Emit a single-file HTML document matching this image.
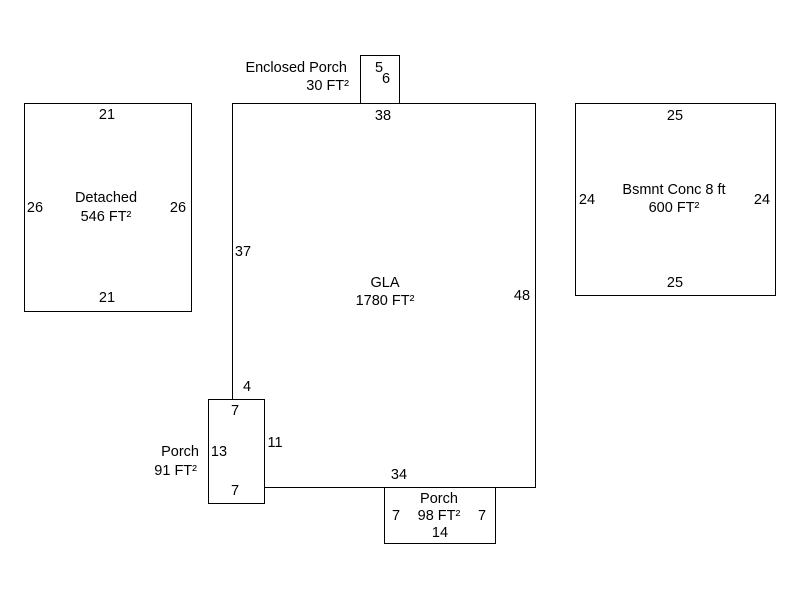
<!DOCTYPE html>
<html><head><style>
body{margin:0;background:#fff;width:800px;height:600px;overflow:hidden}
svg text{font-family:"Liberation Sans",Arial,sans-serif;font-size:14.5px;fill:#000}
</style></head><body>
<svg width="800" height="600" xmlns="http://www.w3.org/2000/svg">
<g fill="none" stroke="#000" stroke-width="1">
<rect x="24.5" y="103.5" width="167" height="208"/>
<rect x="575.5" y="103.5" width="200" height="192"/>
<rect x="360.5" y="55.5" width="39" height="48"/>
<polyline points="232.5,399.5 232.5,103.5 535.5,103.5 535.5,487.5 264.5,487.5"/>
<rect x="208.5" y="399.5" width="56" height="104"/>
<rect x="384.5" y="487.5" width="111" height="56"/>
</g>
<g text-anchor="middle">
<text x="107" y="119">21</text>
<text x="107" y="302">21</text>
<text x="35" y="212">26</text>
<text x="178" y="212">26</text>
<text x="106" y="202">Detached</text>
<text x="106" y="221">546 FT²</text>
<text x="675" y="120">25</text>
<text x="675" y="287">25</text>
<text x="587" y="204">24</text>
<text x="762" y="204">24</text>
<text x="674" y="194">Bsmnt Conc 8 ft</text>
<text x="674" y="212">600 FT²</text>
<text x="379" y="72">5</text>
<text x="386" y="83">6</text>
<text x="383" y="120">38</text>
<text x="243" y="256">37</text>
<text x="522" y="300">48</text>
<text x="385" y="287">GLA</text>
<text x="385" y="305">1780 FT²</text>
<text x="247" y="391">4</text>
<text x="235" y="415">7</text>
<text x="219" y="456">13</text>
<text x="275" y="447">11</text>
<text x="235" y="495">7</text>
<text x="399" y="479">34</text>
<text x="439" y="503">Porch</text>
<text x="439" y="520">98 FT²</text>
<text x="440" y="537">14</text>
<text x="396" y="520">7</text>
<text x="482" y="520">7</text>
</g>
<g text-anchor="end">
<text x="347" y="72">Enclosed Porch</text>
<text x="349" y="90">30 FT²</text>
<text x="199" y="456">Porch</text>
<text x="197" y="475">91 FT²</text>
</g>
</svg>
</body></html>
